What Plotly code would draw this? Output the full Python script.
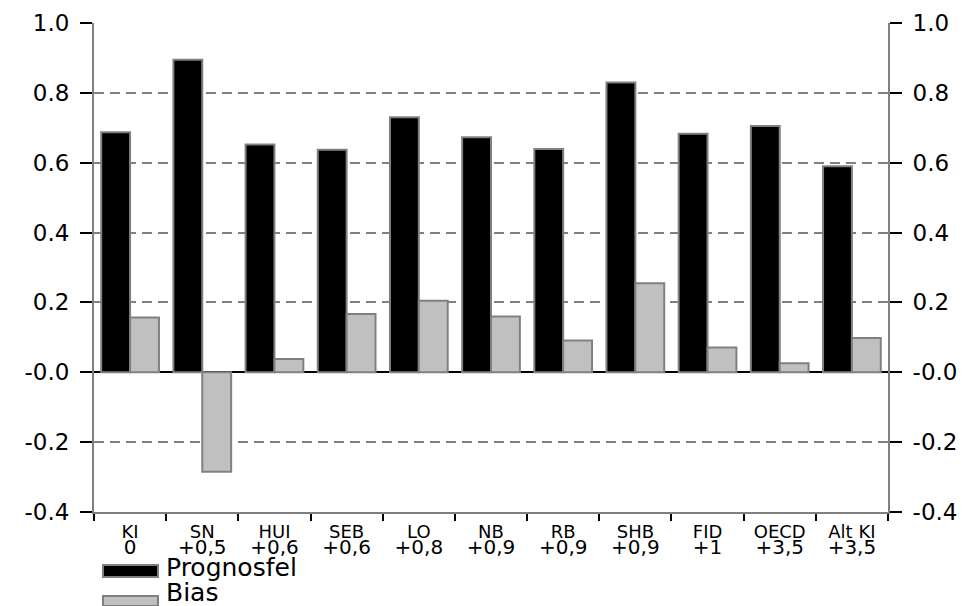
import plotly.graph_objects as go

categories = ["KI", "SN", "HUI", "SEB", "LO", "NB", "RB", "SHB", "FID", "OECD", "Alt KI"]
increments = ["0", "+0,5", "+0,6", "+0,6", "+0,8", "+0,9", "+0,9", "+0,9", "+1", "+3,5", "+3,5"]
prognosfel = [0.687, 0.895, 0.652, 0.637, 0.730, 0.673, 0.639, 0.830, 0.683, 0.705, 0.590]
bias = [0.157, -0.285, 0.038, 0.167, 0.205, 0.160, 0.091, 0.255, 0.071, 0.026, 0.098]
series_names = ["Prognosfel", "Bias"]
y_tickvals = [-0.4, -0.2, 0.0, 0.2, 0.4, 0.6, 0.8, 1.0]
y_ticktext = ["-0.4", "-0.2", "-0.0", "0.2", "0.4", "0.6", "0.8", "1.0"]

FONT = "DejaVu Sans"
GRAY = "#808080"
LIGHT = "#C0C0C0"
positions = list(range(len(categories)))

fig = go.Figure()
fig.add_trace(go.Bar(x=categories, y=prognosfel, name=series_names[0],
                     marker=dict(color="black", line=dict(color=GRAY, width=2)),
                     showlegend=False))
fig.add_trace(go.Bar(x=categories, y=bias, name=series_names[1],
                     marker=dict(color=LIGHT, line=dict(color=GRAY, width=2)),
                     showlegend=False))
# invisible helper traces so the secondary axes (right y labels, second x label row) are drawn
fig.add_trace(go.Scatter(x=positions, y=prognosfel, xaxis="x2", yaxis="y", mode="markers",
                         marker=dict(opacity=0), hoverinfo="skip", showlegend=False))
fig.add_trace(go.Scatter(x=categories, y=prognosfel, xaxis="x", yaxis="y2", mode="markers",
                         marker=dict(opacity=0), hoverinfo="skip", showlegend=False))

yax = dict(range=[-0.4, 1.0], tickmode="array", tickvals=y_tickvals, ticktext=y_ticktext,
           ticks="outside", ticklen=12, tickwidth=2, tickcolor="black",
           tickfont=dict(family=FONT, size=23, color="black"), automargin=False,
           showline=True, linecolor=GRAY, linewidth=2, ticklabelstandoff=6)

fig.update_layout(
    width=964, height=598,
    margin=dict(l=86, r=84, t=15, b=94),
    paper_bgcolor="white", plot_bgcolor="white",
    barmode="group", bargap=0.2, bargroupgap=0,
    showlegend=False,
    xaxis=dict(type="category", range=[-0.5, len(categories) - 0.5], automargin=False,
               tickson="boundaries", ticks="outside", ticklen=7, tickwidth=2, tickcolor="black",
               showline=True, linecolor=GRAY, linewidth=2, showgrid=False,
               tickfont=dict(family=FONT, size=18, color="black"), ticklabelstandoff=2),
    xaxis2=dict(overlaying="x", anchor="y", side="bottom", range=[-0.5, len(categories) - 0.5],
                tickmode="array", tickvals=positions, ticktext=increments, automargin=False,
                ticks="", showline=False, showgrid=False, zeroline=False,
                tickfont=dict(family=FONT, size=20, color="black"), ticklabelstandoff=21),
    yaxis=dict(**yax, side="left", showgrid=True, gridcolor=GRAY, gridwidth=2,
               griddash="10px,6px", zeroline=True, zerolinecolor="black", zerolinewidth=2),
    yaxis2=dict(**yax, side="right", overlaying="y", anchor="x", showgrid=False, zeroline=False),
)

# custom legend (swatches + labels)
legend_fill = ["black", LIGHT]
legend_y = [(-0.1084, -0.1329), (-0.1718, -0.1922)]
label_y = [-0.1135, -0.1636]
for name, fill, (y0, y1), ly in zip(series_names, legend_fill, legend_y, label_y):
    fig.add_shape(type="rect", xref="paper", yref="paper", x0=0.0113, x1=0.0806, y0=y0, y1=y1,
                  fillcolor=fill, line=dict(color=GRAY, width=2))
    fig.add_annotation(text=name, xref="paper", yref="paper", x=0.088, y=ly,
                       xanchor="left", yanchor="middle", showarrow=False,
                       font=dict(family=FONT, size=25, color="black"))

fig.write_html("out.html")
